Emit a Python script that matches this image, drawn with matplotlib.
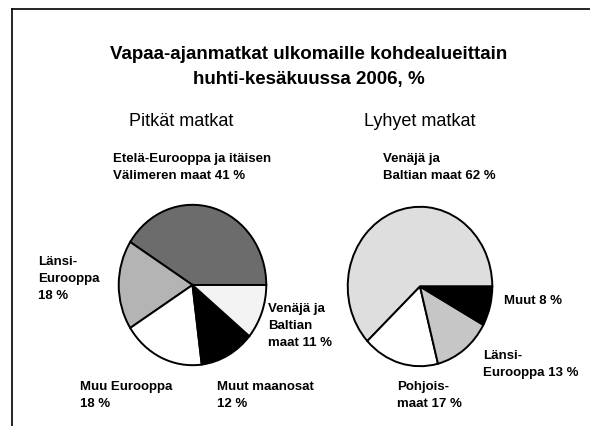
import matplotlib
matplotlib.use("Agg")
import matplotlib.pyplot as plt
from matplotlib.lines import Line2D

plt.rcParams['font.family'] = ['Liberation Sans', 'DejaVu Sans']

W, H = 590, 427

TITLE = "Vapaa-ajanmatkat ulkomaille kohdealueittain\nhuhti-kesäkuussa 2006, %"

# Pitkät matkat
LONG_SHARES = [41, 18, 18, 12, 11]
LONG_COLORS = ['#6c6c6c', '#b4b4b4', '#ffffff', '#000000', '#f3f3f3']
LONG_LABELS = [
    "Etelä-Eurooppa ja itäisen\nVälimeren maat 41 %",
    "Länsi-\nEurooppa\n18 %",
    "Muu Eurooppa\n18 %",
    "Muut maanosat\n12 %",
    "Venäjä ja\nBaltian\nmaat 11 %",
]
# left x, centre y of first line (pixels)
LONG_LABEL_XY = [(113, 160), (38, 263), (80, 388), (217, 388), (268, 310)]

# Lyhyet matkat
SHORT_SHARES = [62, 17, 13, 8]
SHORT_COLORS = ['#dedede', '#ffffff', '#c6c6c6', '#000000']
SHORT_LABELS = [
    "Venäjä ja\nBaltian maat 62 %",
    "Pohjois-\nmaat 17 %",
    "Länsi-\nEurooppa 13 %",
    "Muut 8 %",
]
SHORT_LABEL_XY = [(383, 160), (397, 388), (483, 357), (504, 302)]


def px_axes(fig, left, top, right, bottom):
    return fig.add_axes([left / W, 1 - bottom / H, (right - left) / W, (bottom - top) / H])


def draw_pie(fig, box, shares, colors):
    ax = px_axes(fig, *box)
    ax.pie(shares, colors=colors, startangle=0, counterclock=True,
           wedgeprops={'edgecolor': 'black', 'linewidth': 1.4})
    ax.set_aspect('auto')
    ax.set_xlim(-1.01, 1.01)
    ax.set_ylim(-1.01, 1.01)
    ax.axis('off')
    return ax


def put_labels(fig, labels, positions):
    for text, (x, y) in zip(labels, positions):
        fig.text(x / W, 1 - (y - 7) / H, text, ha='left', va='top', fontsize=9.5,
                 fontweight='bold', linespacing=1.55)


def main():
    fig = plt.figure(figsize=(W / 100, H / 100), dpi=100)
    fig.patch.set_facecolor('white')

    # frame lines
    fig.add_artist(Line2D([12 / W, 1], [1 - 10 / H, 1 - 10 / H], color='black', lw=1.2))
    fig.add_artist(Line2D([12 / W, 12 / W], [1 - 10 / H, 0], color='black', lw=1.2))

    fig.text(309 / W, 1 - 67 / H, TITLE, ha='center', va='center', fontsize=13.5,
             fontweight='bold', linespacing=1.68)
    fig.text(181 / W, 1 - 121 / H, "Pitkät matkat", ha='center', va='center', fontsize=13)
    fig.text(420 / W, 1 - 121 / H, "Lyhyet matkat", ha='center', va='center', fontsize=13)

    draw_pie(fig, (118, 205, 267, 367), LONG_SHARES, LONG_COLORS)
    draw_pie(fig, (347, 207, 493, 368), SHORT_SHARES, SHORT_COLORS)

    put_labels(fig, LONG_LABELS, LONG_LABEL_XY)
    put_labels(fig, SHORT_LABELS, SHORT_LABEL_XY)

    fig.savefig("out.png", dpi=100)


if __name__ == "__main__":
    main()
